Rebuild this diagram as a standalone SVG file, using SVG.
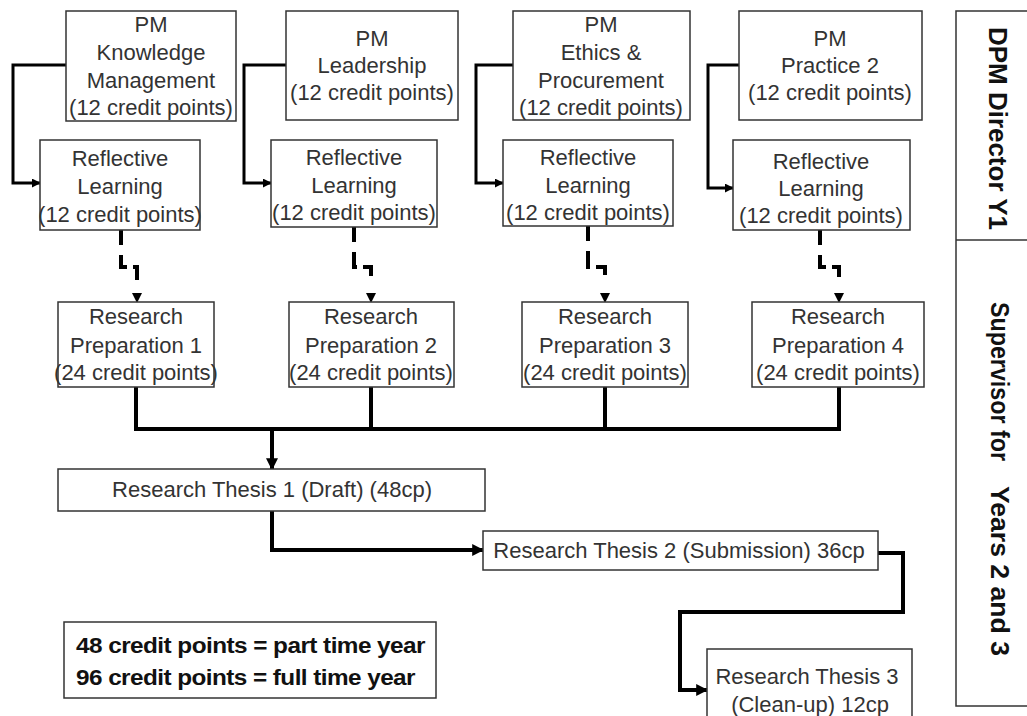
<svg xmlns="http://www.w3.org/2000/svg" width="1027" height="716" viewBox="0 0 1027 716">
  <defs>
    <style>
      .box { fill: #ffffff; stroke: #333333; stroke-width: 1.5; }
      .lbl { font-family: "Liberation Sans", Arial, sans-serif; font-size: 22px; fill: #333333; text-anchor: middle; }
      .side { font-family: "Liberation Sans", Arial, sans-serif; font-size: 25px; font-weight: bold; fill: #111111; }
      .key { font-family: "Liberation Sans", Arial, sans-serif; font-size: 22px; font-weight: bold; fill: #111111; letter-spacing: -0.5px; }
      .solid { fill: none; stroke: #000000; stroke-width: 3; }
      .heavy { fill: none; stroke: #000000; stroke-width: 4; }
      .dash { fill: none; stroke: #000000; stroke-width: 4; stroke-dasharray: 15 10 18 6 17 30; }
    </style>
    <marker id="arrow" viewBox="0 0 10 10" refX="9" refY="5" markerWidth="3" markerHeight="3" markerUnits="strokeWidth" orient="auto">
      <path d="M0,0 L10,5 L0,10 Z" fill="#000000"/>
    </marker>
    <marker id="arrow-dash" viewBox="0 0 10 10" refX="9" refY="5" markerWidth="2.6" markerHeight="2.6" markerUnits="strokeWidth" orient="auto">
      <path d="M0,0 L10,5 L0,10 Z" fill="#000000"/>
    </marker>
  </defs>

  <!-- connectors -->
  <g id="connectors">
    <!-- module to reflective learning -->
    <path class="solid" d="M66,65 H13 V183 H40" marker-end="url(#arrow)"/>
    <path class="solid" d="M286,65 H244 V183 H271" marker-end="url(#arrow)"/>
    <path class="solid" d="M513,65 H476 V183 H503" marker-end="url(#arrow)"/>
    <path class="solid" d="M739,65 H708 V188 H733" marker-end="url(#arrow)"/>
    <!-- reflective learning to research preparation -->
    <path class="dash" d="M121,230 V267 H137 V302" marker-end="url(#arrow-dash)"/>
    <path class="dash" d="M354,227 V267 H371 V302" marker-end="url(#arrow-dash)"/>
    <path class="dash" d="M588,226 V267 H605 V302" marker-end="url(#arrow-dash)"/>
    <path class="dash" d="M820,230 V267 H839 V302" marker-end="url(#arrow-dash)"/>
    <!-- research preparation bus -->
    <path class="heavy" d="M136,387 V429 M371,387 V429 M605,387 V429 M839,387 V429 M134,429 H841"/>
    <path class="heavy" d="M272,429 V469" marker-end="url(#arrow)"/>
    <!-- thesis chain -->
    <path class="heavy" d="M272,511 V550 H483" marker-end="url(#arrow)"/>
    <path class="heavy" d="M878,553 H903 V612 H680 V690 H707" marker-end="url(#arrow)"/>
  </g>

  <g id="pm-knowledge">
    <rect class="box" x="66" y="11" width="170" height="110"/>
    <text class="lbl" x="151" y="32">PM</text>
    <text class="lbl" x="151" y="60">Knowledge</text>
    <text class="lbl" x="151" y="88">Management</text>
    <text class="lbl" x="151" y="115">(12 credit points)</text>
  </g>
  <g id="pm-leadership">
    <rect class="box" x="286" y="11" width="172" height="109"/>
    <text class="lbl" x="372" y="46">PM</text>
    <text class="lbl" x="372" y="73">Leadership</text>
    <text class="lbl" x="372" y="100">(12 credit points)</text>
  </g>
  <g id="pm-ethics">
    <rect class="box" x="513" y="11" width="177" height="109"/>
    <text class="lbl" x="601" y="32">PM</text>
    <text class="lbl" x="601" y="60">Ethics &amp;</text>
    <text class="lbl" x="601" y="88">Procurement</text>
    <text class="lbl" x="601" y="115">(12 credit points)</text>
  </g>
  <g id="pm-practice">
    <rect class="box" x="739" y="11" width="183" height="109"/>
    <text class="lbl" x="830" y="46">PM</text>
    <text class="lbl" x="830" y="73">Practice 2</text>
    <text class="lbl" x="830" y="100">(12 credit points)</text>
  </g>

  <g id="reflective-1">
    <rect class="box" x="40" y="140" width="160" height="90"/>
    <text class="lbl" x="120" y="166">Reflective</text>
    <text class="lbl" x="120" y="194">Learning</text>
    <text class="lbl" x="120" y="222">(12 credit points)</text>
  </g>
  <g id="reflective-2">
    <rect class="box" x="271" y="140" width="166" height="87"/>
    <text class="lbl" x="354" y="165">Reflective</text>
    <text class="lbl" x="354" y="193">Learning</text>
    <text class="lbl" x="354" y="220">(12 credit points)</text>
  </g>
  <g id="reflective-3">
    <rect class="box" x="503" y="140" width="170" height="86"/>
    <text class="lbl" x="588" y="165">Reflective</text>
    <text class="lbl" x="588" y="193">Learning</text>
    <text class="lbl" x="588" y="220">(12 credit points)</text>
  </g>
  <g id="reflective-4">
    <rect class="box" x="733" y="140" width="177" height="90"/>
    <text class="lbl" x="821" y="169">Reflective</text>
    <text class="lbl" x="821" y="196">Learning</text>
    <text class="lbl" x="821" y="223">(12 credit points)</text>
  </g>

  <g id="research-prep-1">
    <rect class="box" x="58" y="302" width="156" height="85"/>
    <text class="lbl" x="136" y="324">Research</text>
    <text class="lbl" x="136" y="353">Preparation 1</text>
    <text class="lbl" x="136" y="380">(24 credit points)</text>
  </g>
  <g id="research-prep-2">
    <rect class="box" x="289" y="302" width="165" height="85"/>
    <text class="lbl" x="371" y="324">Research</text>
    <text class="lbl" x="371" y="353">Preparation 2</text>
    <text class="lbl" x="371" y="380">(24 credit points)</text>
  </g>
  <g id="research-prep-3">
    <rect class="box" x="522" y="302" width="166" height="85"/>
    <text class="lbl" x="605" y="324">Research</text>
    <text class="lbl" x="605" y="353">Preparation 3</text>
    <text class="lbl" x="605" y="380">(24 credit points)</text>
  </g>
  <g id="research-prep-4">
    <rect class="box" x="752" y="302" width="172" height="85"/>
    <text class="lbl" x="838" y="324">Research</text>
    <text class="lbl" x="838" y="353">Preparation 4</text>
    <text class="lbl" x="838" y="380">(24 credit points)</text>
  </g>

  <g id="thesis-1">
    <rect class="box" x="58" y="469" width="427" height="42"/>
    <text class="lbl" x="272" y="497">Research Thesis 1 (Draft) (48cp)</text>
  </g>
  <g id="thesis-2">
    <rect class="box" x="483" y="531" width="395" height="39"/>
    <text class="lbl" x="679" y="558">Research Thesis 2 (Submission) 36cp</text>
  </g>
  <g id="thesis-3">
    <rect class="box" x="707" y="649" width="205" height="80"/>
    <text class="lbl" x="807" y="684">Research Thesis 3</text>
    <text class="lbl" x="810" y="712">(Clean-up) 12cp</text>
  </g>

  <g id="credit-key">
    <rect class="box" x="64" y="622" width="372" height="76"/>
    <text class="key" x="76" y="653" textLength="349" lengthAdjust="spacingAndGlyphs">48 credit points = part time year</text>
    <text class="key" x="76" y="685" textLength="339" lengthAdjust="spacingAndGlyphs">96 credit points = full time year</text>
  </g>

  <g id="supervision-panel">
    <rect class="box" x="956" y="11" width="100" height="695"/>
    <line x1="956" y1="240" x2="1027" y2="240" stroke="#333333" stroke-width="1.5"/>
    <text class="side" transform="translate(989,27) rotate(90)" textLength="203" lengthAdjust="spacingAndGlyphs">DPM Director Y1</text>
    <text class="side" transform="translate(991,302) rotate(90)" textLength="159" lengthAdjust="spacingAndGlyphs">Supervisor for</text>
    <text class="side" transform="translate(991,486) rotate(90)" textLength="170" lengthAdjust="spacingAndGlyphs">Years 2 and 3</text>
  </g>
</svg>
